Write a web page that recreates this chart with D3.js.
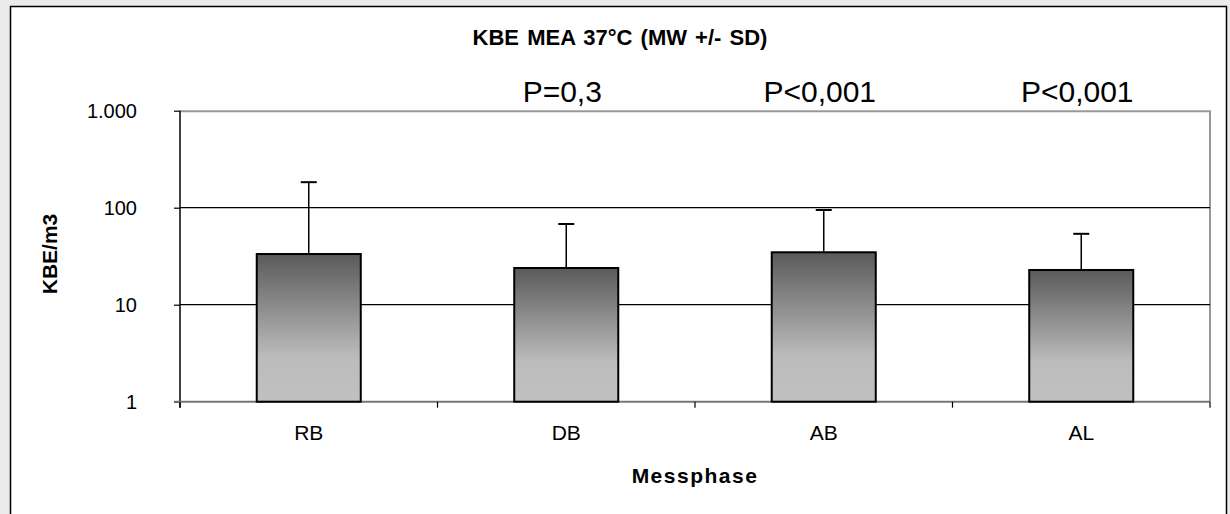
<!DOCTYPE html>
<html>
<head>
<meta charset="utf-8">
<script src="https://cdn.jsdelivr.net/npm/d3@7"></script>
<style>
  html, body { margin: 0; padding: 0; background: #ebebeb; }
  svg { display: block; font-family: Arial, "Liberation Sans", sans-serif; }
</style>
</head>
<body>
<div id="chart"></div>
<script>
// chart data
var categories = ["RB", "DB", "AB", "AL"];
var means = [33.3, 23.9, 34.7, 22.8];
var sds = [150, 44, 60, 31];
var pLabels = ["", "P=0,3", "P<0,001", "P<0,001"];
var yTicks = [1, 10, 100, 1000];

var svgWidth = 1230;
var svgHeight = 514;

var margin = { top: 110.7, right: 20, bottom: 112.3, left: 180 };
var width = 1210 - margin.left;
var height = 401.7 - margin.top;

var svg = d3.select("#chart")
  .append("svg")
  .attr("width", svgWidth)
  .attr("height", svgHeight);

// gradient for the bars
var defs = svg.append("defs");
var grad = defs.append("linearGradient")
  .attr("id", "barGrad")
  .attr("x1", 0).attr("y1", 0)
  .attr("x2", 0).attr("y2", 1);
grad.append("stop").attr("offset", "0%").attr("stop-color", "#5a5a5a");
grad.append("stop").attr("offset", "70%").attr("stop-color", "#bcbcbc");
grad.append("stop").attr("offset", "100%").attr("stop-color", "#c0c0c0");

// white chart area with black frame
svg.append("rect")
  .attr("x", 10.5)
  .attr("y", 6.5)
  .attr("width", 1216)
  .attr("height", 530)
  .attr("fill", "#fff")
  .attr("stroke", "#000")
  .attr("stroke-width", 1.5);

var chartGroup = svg.append("g")
  .attr("transform", `translate(${margin.left}, ${margin.top})`);

// scales
var xBandScale = d3.scaleBand()
  .domain(categories)
  .range([0, width])
  .paddingInner(0.596)
  .paddingOuter(0.298);

var yLogScale = d3.scaleLog()
  .domain([1, 1000])
  .range([height, 0]);

var deFormat = d3.formatLocale({
  decimal: ",",
  thousands: ".",
  grouping: [3],
  currency: ["", " €"]
}).format(",");

// plot border (top and right)
chartGroup.append("path")
  .attr("d", `M0,0.5H${width}V${height}`)
  .attr("fill", "none")
  .attr("stroke", "#999")
  .attr("stroke-width", 2);

// horizontal grid lines
chartGroup.selectAll(".grid")
  .data(yTicks.filter(d => d > 1 && d < 1000))
  .enter()
  .append("line")
  .attr("x1", 0)
  .attr("x2", width)
  .attr("y1", d => yLogScale(d))
  .attr("y2", d => yLogScale(d))
  .attr("stroke", "#000")
  .attr("stroke-width", 1.2);

// y axis
var leftAxis = d3.axisLeft(yLogScale)
  .tickValues(yTicks)
  .tickFormat(deFormat)
  .tickSize(6)
  .tickPadding(37);

var yAxis = chartGroup.append("g")
  .call(leftAxis);
yAxis.select(".domain").attr("stroke", "#000").attr("stroke-width", 1.5)
  .attr("d", `M0,0V${height + 6}`);
yAxis.selectAll(".tick line").attr("stroke", "#000").attr("stroke-width", 1.2);
yAxis.selectAll(".tick text")
  .attr("font-size", "20px")
  .attr("fill", "#000")
  .attr("dy", "0.35em");

// bottom axis line and category separators
chartGroup.append("line")
  .attr("x1", -6)
  .attr("x2", width)
  .attr("y1", height)
  .attr("y2", height)
  .attr("stroke", "#777")
  .attr("stroke-width", 2);

chartGroup.selectAll(".xtick")
  .data(d3.range(categories.length + 1))
  .enter()
  .append("line")
  .attr("x1", i => i * xBandScale.step())
  .attr("x2", i => i * xBandScale.step())
  .attr("y1", height)
  .attr("y2", height + 6)
  .attr("stroke", "#000")
  .attr("stroke-width", 1.2);

// bars
chartGroup.selectAll(".bar")
  .data(categories)
  .enter()
  .append("rect")
  .attr("x", d => xBandScale(d))
  .attr("y", (d, i) => yLogScale(means[i]))
  .attr("width", xBandScale.bandwidth())
  .attr("height", (d, i) => height - yLogScale(means[i]))
  .attr("fill", "url(#barGrad)")
  .attr("stroke", "#000")
  .attr("stroke-width", 2);

// error bars (upper only)
var errGroup = chartGroup.selectAll(".err")
  .data(categories)
  .enter()
  .append("g");

errGroup.append("line")
  .attr("x1", d => xBandScale(d) + xBandScale.bandwidth() / 2)
  .attr("x2", d => xBandScale(d) + xBandScale.bandwidth() / 2)
  .attr("y1", (d, i) => yLogScale(means[i]) - 1)
  .attr("y2", (d, i) => yLogScale(means[i] + sds[i]))
  .attr("stroke", "#000")
  .attr("stroke-width", 1.5);

errGroup.append("line")
  .attr("x1", d => xBandScale(d) + xBandScale.bandwidth() / 2 - 8)
  .attr("x2", d => xBandScale(d) + xBandScale.bandwidth() / 2 + 8)
  .attr("y1", (d, i) => yLogScale(means[i] + sds[i]))
  .attr("y2", (d, i) => yLogScale(means[i] + sds[i]))
  .attr("stroke", "#000")
  .attr("stroke-width", 2);

// category labels
chartGroup.selectAll(".catLabel")
  .data(categories)
  .enter()
  .append("text")
  .attr("x", d => xBandScale(d) + xBandScale.bandwidth() / 2)
  .attr("y", height + 38.5)
  .attr("text-anchor", "middle")
  .attr("font-size", "21px")
  .text(d => d);

// p-value labels above the plot
chartGroup.selectAll(".pLabel")
  .data(categories)
  .enter()
  .append("text")
  .attr("x", d => xBandScale(d) + xBandScale.bandwidth() / 2 - 4)
  .attr("y", -9)
  .attr("text-anchor", "middle")
  .attr("font-size", "30px")
  .text((d, i) => pLabels[i]);

// title
svg.append("text")
  .attr("x", 620)
  .attr("y", 45)
  .attr("text-anchor", "middle")
  .attr("font-size", "22px")
  .attr("font-weight", "bold")
  .attr("word-spacing", "2px")
  .text("KBE MEA 37°C (MW +/- SD)");

// axis titles
svg.append("text")
  .attr("transform", "translate(57, 254) rotate(-90)")
  .attr("text-anchor", "middle")
  .attr("font-size", "21px")
  .attr("font-weight", "bold")
  .text("KBE/m3");

chartGroup.append("text")
  .attr("x", width / 2)
  .attr("y", 483 - margin.top)
  .attr("text-anchor", "middle")
  .attr("font-size", "21px")
  .attr("font-weight", "bold")
  .attr("letter-spacing", "1.5px")
  .text("Messphase");
</script>
</body>
</html>
